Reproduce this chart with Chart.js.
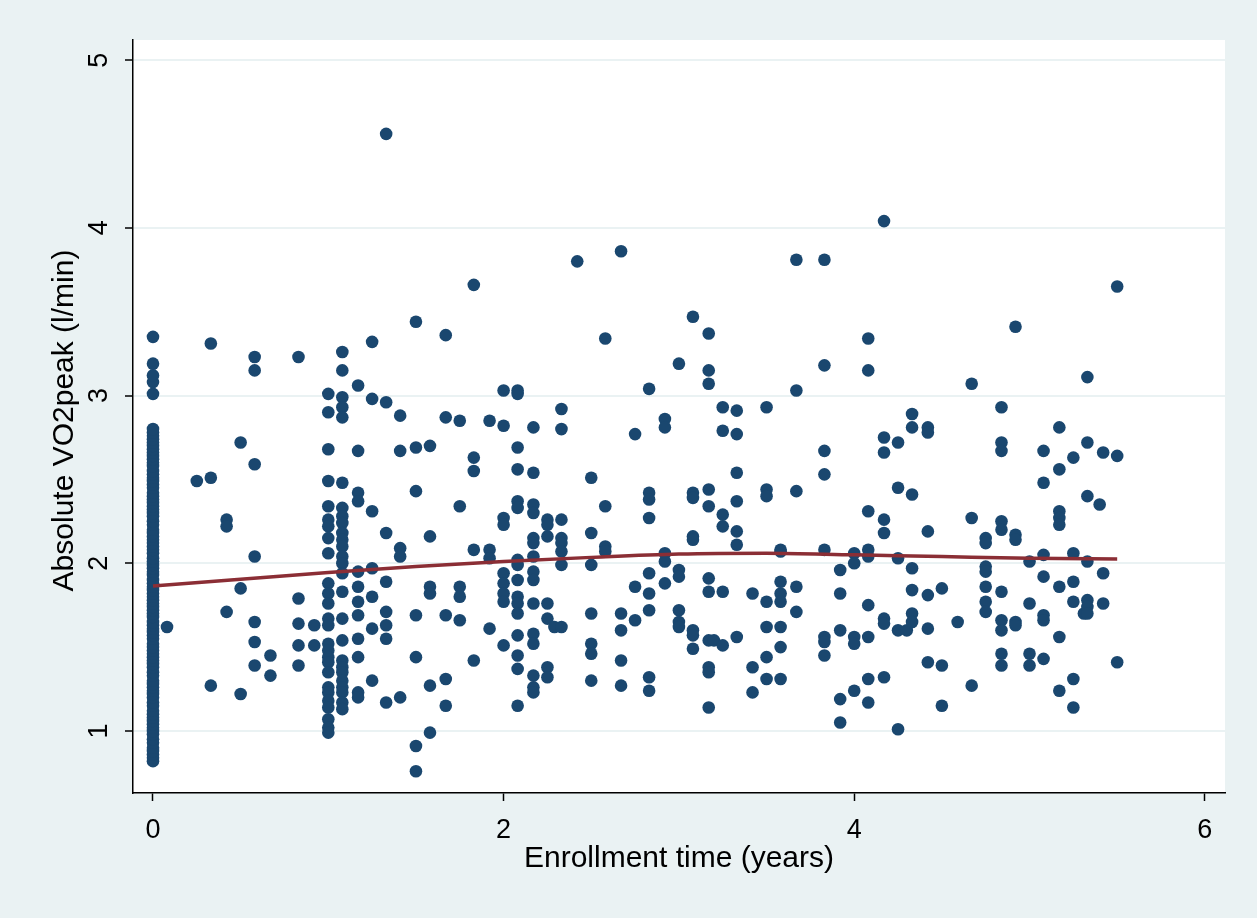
<!DOCTYPE html>
<html>
<head>
<meta charset="utf-8">
<script src="https://cdn.jsdelivr.net/npm/chart.js@4/dist/chart.umd.min.js"></script>
<style>
html,body{margin:0;padding:0;background:#EAF2F3;}
canvas{display:block;}
</style>
</head>
<body>
<canvas id="c" width="1257" height="918"></canvas>
<script>
// Enrollment time (years) of each visit column
const visitTimes = [0, 0.08, 0.25, 0.33, 0.42, 0.5, 0.58, 0.67, 0.83, 0.92,
  1.0, 1.08, 1.17, 1.25, 1.33, 1.41, 1.5, 1.58, 1.67, 1.75, 1.83, 1.92,
  2.0, 2.08, 2.17, 2.25, 2.29, 2.33, 2.42, 2.5, 2.58, 2.67, 2.75, 2.83, 2.92,
  3.0, 3.08, 3.17, 3.2, 3.25, 3.33, 3.42, 3.5, 3.58, 3.67, 3.83, 3.92,
  4.0, 4.08, 4.17, 4.25, 4.3, 4.33, 4.42, 4.5, 4.59, 4.67, 4.75, 4.84, 4.92,
  5.0, 5.08, 5.17, 5.25, 5.31, 5.33, 5.4, 5.42, 5.5];

// Absolute VO2peak (l/min) observed at each visit time
const vo2ByTime = [
  [0.82,0.84,0.86,0.88,0.9,0.93,0.95,0.98,1.0,1.02,1.04,1.06,1.08,1.1,1.12,1.15,1.17,1.2,1.22,1.24,1.26,1.28,1.3,1.33,1.35,1.38,1.4,1.42,1.44,1.46,1.48,1.5,1.52,1.55,1.57,1.59,1.61,1.63,1.65,1.68,1.7,1.72,1.74,1.76,1.78,1.8,1.82,1.84,1.86,1.88,1.9,1.93,1.95,1.97,1.99,2.01,2.03,2.06,2.08,2.1,2.12,2.14,2.16,2.18,2.2,2.23,2.25,2.28,2.3,2.32,2.34,2.36,2.38,2.4,2.42,2.45,2.47,2.49,2.51,2.53,2.55,2.58,2.6,2.62,2.64,2.66,2.68,2.7,2.72,2.74,2.76,2.78,2.8,3.01,3.08,3.12,3.19,3.35],
  [1.62],
  [2.49],
  [3.31,2.51,1.27],
  [2.26,2.22,1.71],
  [2.72,1.85,1.22],
  [3.23,3.15,2.59,2.04,1.65,1.53,1.39],
  [1.45,1.33],
  [3.23,1.79,1.64,1.51,1.39],
  [1.63,1.51],
  [3.01,2.9,2.68,2.49,2.34,2.26,2.22,2.15,2.06,1.88,1.82,1.76,1.67,1.63,1.52,1.48,1.44,1.41,1.35,1.26,1.23,1.18,1.14,1.07,1.02,0.99],
  [3.26,3.15,2.99,2.93,2.87,2.48,2.33,2.28,2.24,2.18,2.14,2.10,2.04,2.0,1.94,1.83,1.67,1.54,1.42,1.38,1.35,1.30,1.26,1.23,1.17,1.13],
  [3.06,2.67,2.42,2.37,1.95,1.86,1.77,1.69,1.55,1.44,1.23,1.2],
  [3.32,2.98,2.31,1.97,1.8,1.61,1.3],
  [4.56,2.96,2.18,1.89,1.71,1.63,1.55,1.17],
  [2.88,2.67,2.09,2.04,1.2],
  [3.44,2.69,2.43,1.69,1.44,0.91,0.76],
  [2.70,2.16,1.86,1.82,1.27,0.99],
  [3.36,2.87,1.69,1.31,1.15],
  [2.85,2.34,1.86,1.8,1.66],
  [3.66,2.63,2.55,2.08,1.42],
  [2.85,2.08,2.03,1.61],
  [3.03,2.82,2.27,2.23,1.94,1.88,1.82,1.77,1.51],
  [3.03,3.01,2.69,2.56,2.37,2.33,2.02,1.99,1.90,1.8,1.76,1.70,1.57,1.45,1.37,1.15],
  [2.81,2.54,2.35,2.30,2.15,2.12,2.04,1.95,1.90,1.76,1.58,1.52,1.33,1.26,1.23],
  [2.26,2.23,2.16,1.76,1.67,1.38,1.32],
  [1.62],
  [2.92,2.80,2.26,2.15,2.12,2.07,1.99,1.62],
  [3.80],
  [2.51,2.18,1.99,1.70,1.52,1.46,1.30],
  [3.34,2.34,2.10,2.07],
  [3.86,1.70,1.60,1.42,1.27],
  [2.77,1.86,1.66],
  [3.04,2.42,2.38,2.27,1.94,1.82,1.72,1.32,1.24],
  [2.86,2.81,2.06,2.01,1.88],
  [3.19,1.96,1.92,1.72,1.65,1.62],
  [3.47,2.42,2.39,2.16,2.14,1.60,1.57,1.49],
  [3.37,3.15,3.07,2.44,2.34,1.91,1.83,1.54,1.38,1.35,1.14],
  [1.54],
  [2.93,2.79,2.29,2.22,1.83,1.51],
  [2.91,2.77,2.54,2.37,2.19,2.11,1.56],
  [1.82,1.38,1.23],
  [2.93,2.44,2.40,1.77,1.62,1.44,1.31],
  [2.08,2.07,1.89,1.82,1.77,1.62,1.5,1.31],
  [3.81,3.03,2.43,1.86,1.71],
  [3.81,3.18,2.67,2.53,2.08,1.56,1.53,1.45],
  [1.96,1.82,1.60,1.19,1.05],
  [2.06,2.0,1.56,1.52,1.24],
  [3.34,3.15,2.31,2.08,2.04,1.75,1.56,1.31,1.17],
  [4.04,2.75,2.66,2.26,2.18,1.67,1.64,1.32],
  [2.72,2.45,2.03,1.60,1.01],
  [1.60],
  [2.89,2.81,2.41,1.97,1.84,1.70,1.65],
  [2.81,2.78,2.19,1.81,1.61,1.41],
  [1.85,1.39,1.15],
  [1.65],
  [3.07,2.27,1.27],
  [2.15,2.12,1.98,1.95,1.86,1.77,1.71],
  [2.93,2.72,2.67,2.25,2.2,1.83,1.66,1.60,1.46,1.39],
  [3.41,2.17,2.14,1.65,1.63],
  [2.01,1.76,1.46,1.39],
  [2.67,2.48,2.05,1.92,1.69,1.66,1.43],
  [2.81,2.56,2.31,2.27,2.23,1.86,1.56,1.24],
  [2.63,2.06,1.89,1.77,1.31,1.14],
  [1.70],
  [3.11,2.72,2.40,2.01,1.78,1.74,1.70],
  [2.35],
  [2.66,1.94,1.76],
  [3.65,2.64,1.41]
];

// Fitted curve
const fitTimes  = [0, 0.5, 1, 1.5, 2, 2.5, 3, 3.5, 4, 4.5, 5, 5.5];
const fitValues = [1.865, 1.905, 1.945, 1.98, 2.01, 2.035, 2.055, 2.06, 2.05, 2.04, 2.03, 2.025];

// Axis ticks
const xTickValues = [0, 2, 4, 6];
const yTickValues = [1, 2, 3, 4, 5];
const xTitle = 'Enrollment time (years)';
const yTitle = 'Absolute VO2peak (l/min)';

const scatterPts = [];
visitTimes.forEach((t, i) => vo2ByTime[i].forEach(v => scatterPts.push({x: t, y: v})));
const fitPts = fitTimes.map((t, i) => ({x: t, y: fitValues[i]}));

const FONT = '"Liberation Sans", Arial, sans-serif';

const decor = {
  id: 'decor',
  beforeDraw(chart) {
    const {ctx, chartArea: a} = chart;
    ctx.save();
    ctx.fillStyle = '#EAF2F3';
    ctx.fillRect(0, 0, chart.width, chart.height);
    ctx.fillStyle = '#FFFFFF';
    ctx.fillRect(a.left, a.top, a.right - a.left, a.bottom - a.top);
    ctx.restore();
  },
  afterDraw(chart) {
    const {ctx, chartArea: a, scales} = chart;
    ctx.save();
    ctx.fillStyle = '#000';
    ctx.font = '27px ' + FONT;
    ctx.textAlign = 'center';
    ctx.textBaseline = 'middle';
    xTickValues.forEach(v => {
      ctx.fillText(String(v), scales.x.getPixelForValue(v), a.bottom + 38);
    });
    yTickValues.forEach(v => {
      ctx.save();
      ctx.translate(a.left - 33, scales.y.getPixelForValue(v));
      ctx.rotate(-Math.PI / 2);
      ctx.fillText(String(v), 0, 0);
      ctx.restore();
    });
    ctx.font = '30px ' + FONT;
    ctx.fillText(xTitle, (a.left + a.right) / 2, a.bottom + 66);
    ctx.save();
    ctx.translate(a.left - 68, (a.top + a.bottom) / 2 + 4);
    ctx.rotate(-Math.PI / 2);
    ctx.fillText(yTitle, 0, 0);
    ctx.restore();
    ctx.restore();
  }
};

new Chart(document.getElementById('c'), {
  data: {
    datasets: [
      {
        type: 'line',
        data: fitPts,
        borderColor: '#8B2E35',
        borderWidth: 3.5,
        pointRadius: 0,
        cubicInterpolationMode: 'monotone',
        fill: false,
        order: 0
      },
      {
        type: 'scatter',
        data: scatterPts,
        backgroundColor: '#1A476F',
        borderColor: '#1A476F',
        pointRadius: 6.3,
        pointBorderWidth: 0,
        order: 1
      }
    ]
  },
  plugins: [decor],
  options: {
    responsive: false,
    animation: false,
    devicePixelRatio: 1,
    layout: {padding: {left: 0, top: 40, right: 32, bottom: 0}},
    plugins: {legend: {display: false}, tooltip: {enabled: false}},
    scales: {
      x: {
        type: 'linear',
        min: -0.114, max: 6.115,
        afterBuildTicks: s => { s.ticks = xTickValues.map(v => ({value: v})); },
        afterFit: s => { s.height = 125; },
        ticks: {display: false},
        grid: {drawOnChartArea: false, drawTicks: true, tickLength: 8, tickColor: '#000', tickWidth: 1.5},
        border: {display: true, color: '#000', width: 1.5}
      },
      y: {
        type: 'linear',
        min: 0.63, max: 5.12,
        afterBuildTicks: s => { s.ticks = yTickValues.map(v => ({value: v})); },
        afterFit: s => { s.width = 133; },
        ticks: {display: false},
        grid: {drawOnChartArea: true, color: '#EAF2F3', lineWidth: 2, drawTicks: true, tickLength: 8, tickColor: '#000', tickWidth: 1.5},
        border: {display: true, color: '#000', width: 1.5}
      }
    }
  }
});
</script>
</body>
</html>
